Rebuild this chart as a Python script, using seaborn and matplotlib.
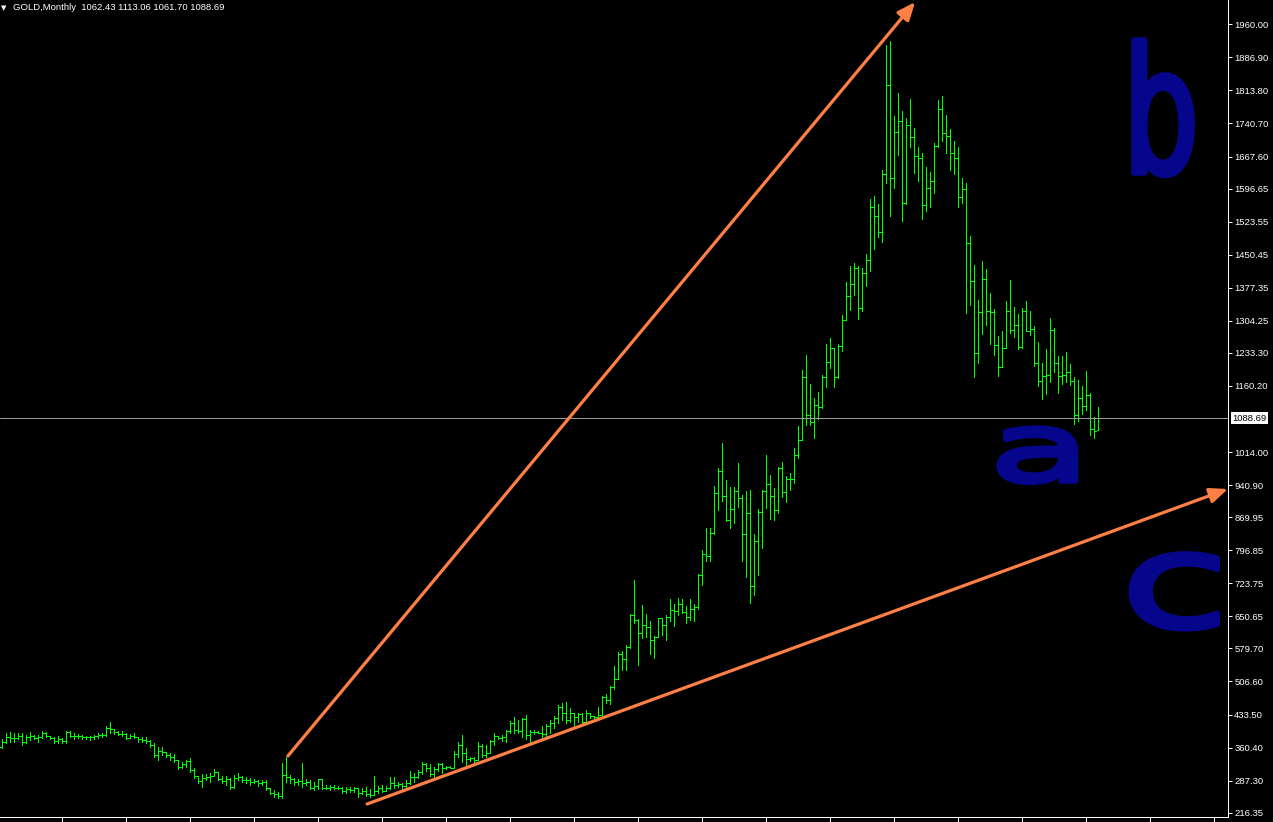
import numpy as np
import pandas as pd
import matplotlib
matplotlib.use("Agg")
import matplotlib.pyplot as plt
import matplotlib.patheffects as pe
from matplotlib.transforms import Affine2D
import seaborn as sns

# GOLD monthly bars (open / high / low / close), oldest first
opens = [
    362, 372, 383, 381, 381, 386, 372, 384, 386, 381,
    384, 392, 386, 382, 376, 380, 374, 395, 387, 385,
    386, 383, 384, 383, 386, 388, 389, 404, 401, 394,
    391, 390, 382, 387, 384, 379, 378, 376, 366, 344,
    352, 350, 345, 340, 333, 318, 325, 330, 310, 297,
    287, 294, 296, 298, 306, 292, 287, 292, 273, 294,
    296, 289, 288, 285, 287, 282, 285, 270, 261, 257,
    253, 300, 295, 290, 284, 287, 283, 285, 272, 275,
    290, 272, 271, 274, 272, 270, 265, 268, 266, 271,
    260, 265, 258, 256, 265, 270, 265, 272, 281, 277,
    280, 276, 283, 296, 295, 306, 325, 315, 302, 313,
    323, 315, 318, 316, 347, 367, 348, 335, 337, 333,
    364, 345, 349, 374, 385, 381, 384, 396, 415, 400,
    397, 424, 388, 395, 394, 393, 391, 408, 415, 425,
    451, 437, 422, 436, 427, 435, 418, 436, 430, 429,
    433, 472, 465, 495, 513, 568, 556, 583, 654, 642,
    613, 632, 626, 599, 604, 646, 632, 650, 665, 662,
    678, 660, 650, 666, 672, 743, 789, 783, 834, 923,
    971, 916, 864, 887, 928, 913, 833, 880, 718, 818,
    882, 927, 943, 917, 885, 978, 926, 954, 955, 1008,
    1040, 1181, 1096, 1081, 1118, 1113, 1179, 1213, 1244, 1181,
    1248, 1307, 1358, 1386, 1421, 1332, 1409, 1439, 1556, 1536,
    1500, 1628, 1826, 1620, 1722, 1746, 1565, 1737, 1710, 1669,
    1664, 1560, 1598, 1614, 1691, 1772, 1719, 1712, 1675, 1664,
    1579, 1596, 1476, 1393, 1234, 1323, 1396, 1327, 1323, 1250,
    1202, 1244, 1326, 1284, 1296, 1246, 1327, 1282, 1287, 1210,
    1171, 1182, 1184, 1283, 1212, 1183, 1184, 1190, 1172, 1095,
    1134, 1115, 1141, 1064, 1062.43,
]
highs = [
    378.6, 391.9, 394, 392, 392, 392, 388, 394, 388, 388,
    397, 394, 386.5, 384.5, 386, 380.5, 397, 396, 392, 390,
    388, 387, 386, 388, 392, 392, 408, 416, 401.5, 397,
    396, 392, 390, 392, 384.5, 384.5, 384.5, 376.5, 370, 362,
    362, 351, 349, 346, 333.5, 329, 334, 336.6, 314.5, 297.5,
    303, 303, 305, 312, 307, 297.5, 297.5, 292.5, 299.7, 305,
    297.5, 294.6, 292.4, 290, 288.7, 288.7, 288.7, 270.5, 266.6, 262.9,
    325.5, 339, 300, 292.4, 290, 325.5, 290, 288.7, 285, 292,
    290.5, 277.6, 277.6, 277.6, 275.4, 273.9, 272.5, 273.9, 272.5, 271.5,
    270, 272.5, 268, 297.5, 275.4, 277.6, 275.4, 294.6, 294.6, 285,
    281, 288.7, 308.6, 305, 310.8, 329, 327, 323, 318, 327,
    325.5, 319.6, 319.6, 352.8, 373.5, 388, 358.7, 340, 340, 373.5,
    368.3, 366, 377, 391.9, 386, 388, 399, 419, 428.8, 421.4,
    426.5, 432.4, 399, 399, 397.8, 408, 411.8, 421.4, 430, 454.6,
    458.3, 462, 447, 437.6, 437.6, 436, 443.5, 437.6, 430.5, 450.9,
    475, 478, 497, 540, 572, 574, 588, 655, 731, 645,
    676, 656, 640, 607, 648, 648, 653, 689, 677, 692,
    690, 673, 689, 678, 745, 797, 845, 845, 938, 978,
    1033, 953, 936, 936, 989, 918, 928, 931, 833, 889,
    930, 1007, 963, 934, 980, 991, 961, 967, 1024, 1072,
    1196, 1228, 1164, 1133, 1146, 1184, 1253, 1267, 1245, 1253,
    1316, 1389, 1426, 1432, 1425, 1420, 1452, 1573, 1580, 1562,
    1637, 1914, 1922, 1757, 1807, 1768, 1752, 1795, 1730, 1689,
    1675, 1645, 1633, 1697, 1793, 1801, 1759, 1728, 1702, 1689,
    1619, 1608, 1492, 1428, 1350, 1436, 1419, 1365, 1330, 1271,
    1282, 1348, 1394, 1335, 1319, 1333, 1348, 1326, 1293, 1257,
    1212, 1242, 1310, 1288, 1226, 1227, 1235, 1209, 1180, 1173,
    1160, 1193, 1145, 1092, 1113.06,
]
lows = [
    358.7, 369.8, 372, 372, 378.6, 366, 370, 377, 379, 373,
    381, 383, 379, 371, 370, 370, 370, 383, 379, 381,
    379, 379, 377, 379, 381, 384.5, 386, 393, 390, 388,
    387, 379, 381, 381, 373.5, 373.5, 370, 362.4, 340, 333,
    344, 340, 333, 329, 312, 314.5, 318, 307, 292.4, 281,
    274, 289, 285, 297.5, 289, 281, 277.6, 268, 272, 289,
    285, 281, 277.6, 281, 275.4, 277.6, 266.6, 257, 251.8, 248,
    248, 285, 282.8, 277.6, 277.6, 274, 277.6, 268, 266.6, 268,
    268, 268, 266.6, 268, 268, 260.7, 260.7, 262.9, 262.9, 250,
    257.7, 253, 251.8, 255, 260.7, 262.9, 264, 268, 270, 272.5,
    267, 273.9, 279, 285, 294, 303, 309, 297, 296, 309,
    305, 312.3, 314.5, 314.5, 340.3, 329, 321.9, 331.5, 327, 332,
    338.8, 338.8, 347.7, 366, 378.6, 375.7, 373.5, 391.9, 393.4, 391.9,
    384.5, 378.6, 368.3, 390.4, 391.9, 384.5, 384.5, 393.4, 403, 415.5,
    421.4, 414, 417.7, 406.6, 417.7, 410.3, 417, 425, 423.6, 427.3,
    433, 458, 456, 489, 513, 532, 532, 580, 636, 542,
    603, 605, 567, 558, 604, 609, 599, 641, 630, 654,
    657, 637, 642, 641, 667, 721, 772, 772, 833, 885,
    905, 862, 845, 858, 893, 772, 737, 681, 698, 741,
    801, 890, 865, 864, 880, 914, 904, 930, 946, 1000,
    1040, 1074, 1074, 1044, 1086, 1112, 1158, 1199, 1158, 1177,
    1238, 1307, 1328, 1361, 1308, 1327, 1381, 1415, 1463, 1490,
    1479, 1609, 1535, 1599, 1670, 1526, 1563, 1689, 1632, 1614,
    1530, 1548, 1557, 1588, 1689, 1702, 1676, 1638, 1630, 1557,
    1564, 1322, 1340, 1181, 1210, 1274, 1294, 1254, 1229, 1183,
    1202, 1243, 1277, 1269, 1242, 1243, 1281, 1273, 1205, 1161,
    1132, 1143, 1168, 1192, 1144, 1165, 1169, 1163, 1077, 1082,
    1099, 1106, 1052, 1046, 1061.70,
]
closes = [
    372, 383, 381, 381, 386, 372, 384, 386, 381, 384,
    392, 386, 382, 376, 380, 374, 395, 387, 385, 386,
    383, 384, 383, 386, 388, 389, 404, 401, 394, 391,
    390, 382, 387, 384, 379, 378, 376, 366, 344, 352,
    350, 345, 340, 333, 318, 325, 330, 310, 297, 287,
    294, 296, 298, 306, 292, 287, 292, 273, 294, 296,
    289, 288, 285, 287, 282, 285, 270, 261, 257, 253,
    300, 295, 290, 284, 287, 283, 285, 272, 275, 290,
    272, 271, 274, 272, 270, 265, 268, 266, 271, 260,
    265, 258, 256, 265, 270, 265, 272, 281, 277, 280,
    276, 283, 296, 295, 306, 325, 315, 302, 313, 323,
    315, 318, 316, 347, 367, 348, 335, 337, 333, 364,
    345, 349, 374, 385, 381, 384, 396, 415, 400, 397,
    424, 388, 395, 394, 393, 391, 408, 415, 425, 451,
    437, 422, 436, 427, 435, 418, 436, 430, 429, 433,
    472, 465, 495, 513, 568, 556, 583, 654, 642, 613,
    632, 626, 599, 604, 646, 632, 650, 665, 662, 678,
    660, 650, 666, 672, 743, 789, 783, 834, 923, 971,
    916, 864, 887, 928, 913, 833, 880, 718, 818, 882,
    927, 943, 917, 885, 978, 926, 954, 955, 1008, 1040,
    1181, 1096, 1081, 1118, 1113, 1179, 1213, 1244, 1181, 1248,
    1307, 1358, 1386, 1421, 1332, 1409, 1439, 1556, 1536, 1500,
    1628, 1826, 1620, 1722, 1746, 1565, 1737, 1710, 1669, 1664,
    1560, 1598, 1614, 1691, 1772, 1719, 1712, 1675, 1664, 1579,
    1596, 1476, 1393, 1234, 1323, 1396, 1327, 1323, 1250, 1202,
    1244, 1326, 1284, 1296, 1246, 1327, 1282, 1287, 1210, 1171,
    1182, 1184, 1283, 1212, 1183, 1184, 1190, 1172, 1095, 1134,
    1115, 1141, 1064, 1061, 1088.69,
]

price_ticks = [1960.00, 1886.90, 1813.80, 1740.70, 1667.60, 1596.65, 1523.55,
               1450.45, 1377.35, 1304.25, 1233.30, 1160.20, 1014.00, 940.90,
               869.95, 796.85, 723.75, 650.65, 579.70, 506.60, 433.50, 360.40,
               287.30, 216.35]
last_price = 1088.69
header = "GOLD,Monthly  1062.43 1113.06 1061.70 1088.69"

# trend arrows drawn on the chart: (bar index, price) start -> tip
arrow_up = ((71.4, 341.8), (228.2, 2009.3))
arrow_low = ((91.2, 235.6), (306.4, 932.3))

# hand-written wave labels
wave_letters = ["b", "a", "c"]


class PenStroke(pe.AbstractPathEffect):
    """Stretch the glyph around its anchor and thicken it like a marker pen."""

    def __init__(self, sx, sy, center, lw):
        super().__init__()
        self.sx, self.sy, self.center, self.lw = sx, sy, center, lw

    def draw_path(self, renderer, gc, tpath, affine, rgbFace=None):
        cx, cy = self.center
        aff = affine + Affine2D().translate(-cx, -cy).scale(self.sx, self.sy).translate(cx, cy)
        gc0 = renderer.new_gc()
        gc0.copy_properties(gc)
        gc0.set_linewidth(self.lw)
        gc0.set_foreground(rgbFace)
        gc0.set_joinstyle("round")
        gc0.set_capstyle("round")
        renderer.draw_path(gc0, tpath, aff, rgbFace)
        gc0.restore()


df = pd.DataFrame({"open": opens, "high": highs, "low": lows, "close": closes})
df["bar"] = np.arange(len(df))

sns.set_theme(style="dark", rc={
    "axes.facecolor": "black",
    "figure.facecolor": "black",
    "axes.grid": False,
})
plt.rcParams["font.family"] = ["Liberation Sans", "DejaVu Sans"]

W, H = 1273, 822
fig = plt.figure(figsize=(W / 100, H / 100), dpi=100)
ax = fig.add_axes([0, 5 / H, 1228 / W, 817 / H])
ax.set_facecolor("black")

px = 0.72  # one pixel in points
green = "#00ff00"
ax.vlines(df["bar"], df["low"], df["high"], color=green, lw=px, antialiased=False)
ax.hlines(df["open"], df["bar"] - 0.45, df["bar"], color=green, lw=px, antialiased=False)
ax.hlines(df["close"], df["bar"], df["bar"] + 0.45, color=green, lw=px, antialiased=False)

ax.axhline(last_price, color="#9a9a9a", lw=px)

ax.set_xlim(-0.575, 306.425)
ax.set_ylim(206.86, 2013.74)

# axes frame like the terminal
for s in ["left", "top"]:
    ax.spines[s].set_visible(False)
for s in ["right", "bottom"]:
    ax.spines[s].set_visible(True)
    ax.spines[s].set_color("white")
    ax.spines[s].set_linewidth(px)

ax.yaxis.tick_right()
ax.set_yticks(price_ticks)
ax.set_yticklabels([f"{v:.2f}" for v in price_ticks])
ax.tick_params(axis="y", colors="white", labelcolor="white", length=3, width=px,
               direction="out", labelsize=6.8, pad=1.5, right=True, left=False)
ax.set_xticks(np.arange(15, 307, 16))
ax.set_xticklabels([])
ax.tick_params(axis="x", colors="white", length=4, width=px, direction="out", bottom=True)

# current price box on the scale
ax.text(1.0035, last_price, f"{last_price:.2f}", transform=ax.get_yaxis_transform(),
        ha="left", va="center", fontsize=6.8, color="black", clip_on=False,
        bbox=dict(boxstyle="square,pad=0.15", fc="white", ec="none"))

# trend arrows
orange = "#ff7f45"
for (x0, y0), (x1, y1) in [arrow_up, arrow_low]:
    ax.annotate("", xy=(x1, y1), xytext=(x0, y0), annotation_clip=False,
                arrowprops=dict(arrowstyle="-|>,head_length=0.9,head_width=0.38",
                                color=orange, lw=2.3, shrinkA=0, shrinkB=0))

# header
fig.text(1 / W, 1 - 8 / H, "\u25bc", color="white", fontsize=5, va="center", ha="left",
         family=["DejaVu Sans"])
fig.text(13 / W, 1 - 8 / H, header, color="white", fontsize=6.8, va="center", ha="left")

# hand-drawn wave letters: (pixel x centre, pixel baseline from top, size, sx)
navy = "#06068c"
letter_style = [(1161, 173, 126, 0.68), (1040, 481, 68, 1.75), (1175, 627, 94, 1.52)]
for letter, (lx, ly, size, sx) in zip(wave_letters, letter_style):
    fig.text(lx / W, 1 - ly / H, letter, color=navy, fontsize=size, ha="center",
             va="baseline", family=["DejaVu Sans"],
             path_effects=[PenStroke(sx, 1.0, (lx, H - ly), 4)])

fig.savefig("out.png", dpi=100, facecolor="black")
